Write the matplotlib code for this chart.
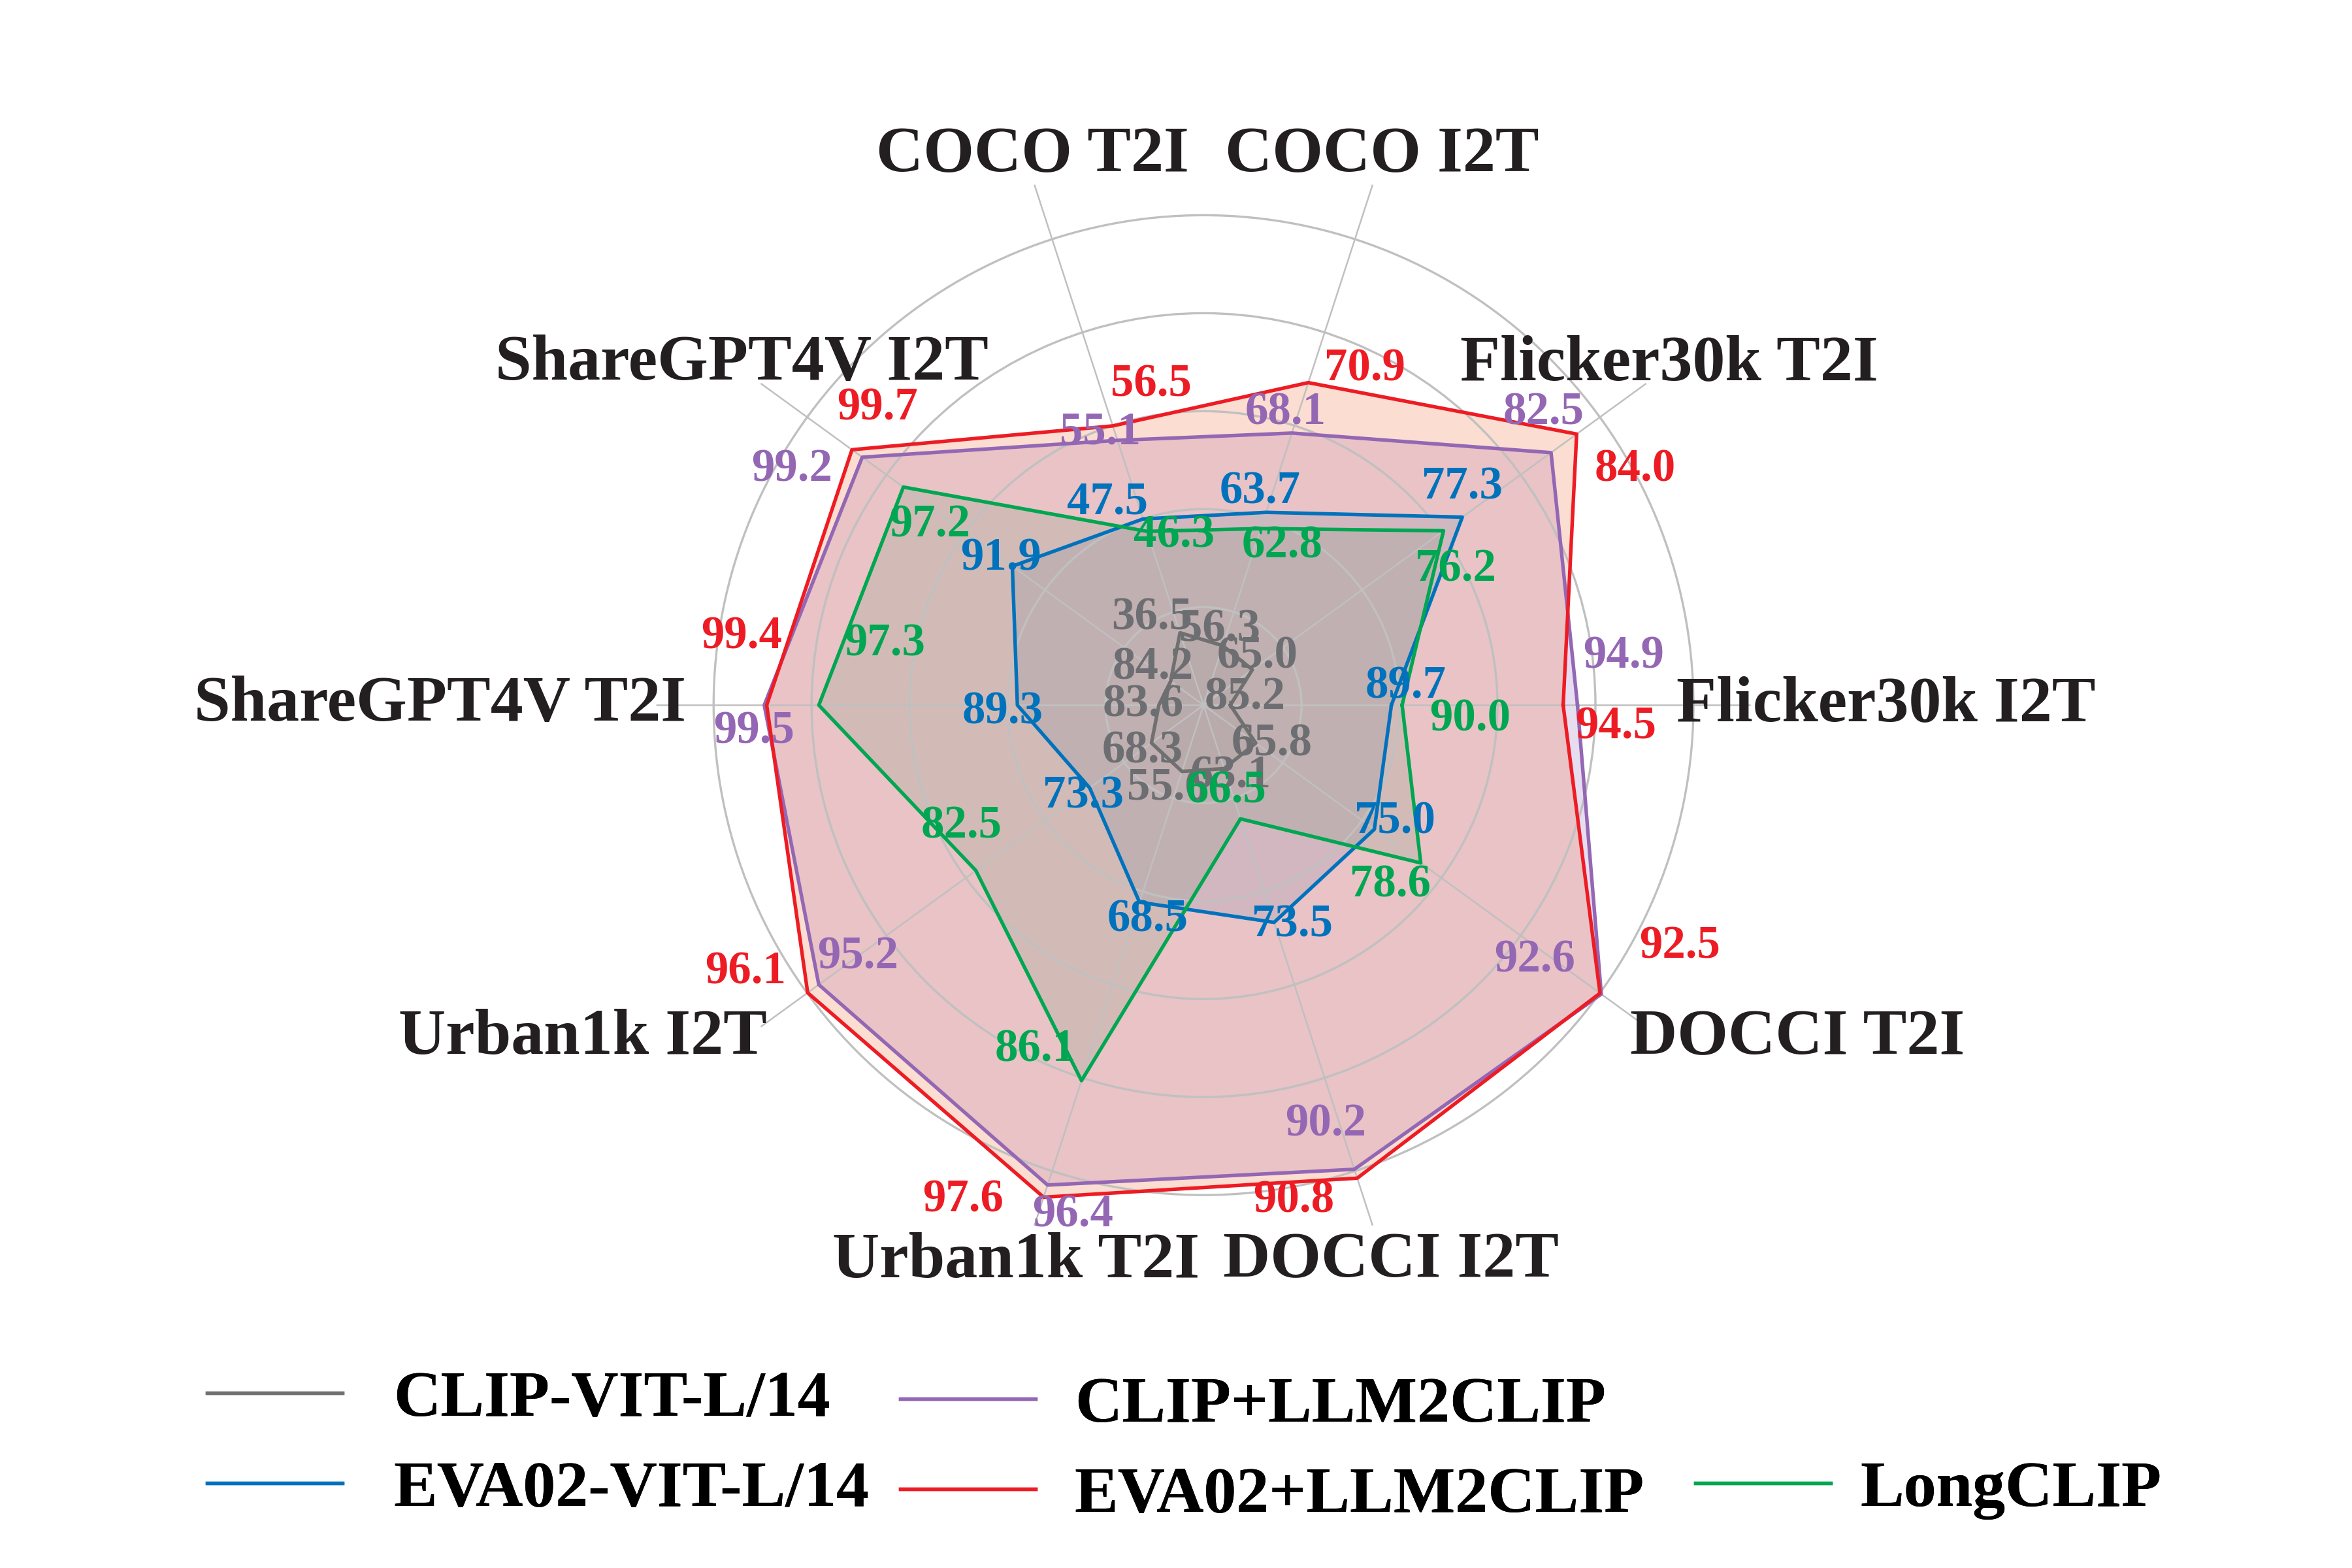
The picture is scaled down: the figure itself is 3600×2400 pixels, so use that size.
import numpy as np
import matplotlib.pyplot as plt
from matplotlib.lines import Line2D

plt.rcParams['font.family'] = ['Liberation Serif', 'DejaVu Serif']
plt.rcParams['font.weight'] = 'bold'

# axes, counter-clockwise from the right
categories = ['Flicker30k I2T', 'Flicker30k T2I', 'COCO I2T', 'COCO T2I', 'ShareGPT4V I2T',
              'ShareGPT4V T2I', 'Urban1k I2T', 'Urban1k T2I', 'DOCCI I2T', 'DOCCI T2I']

clip_l14 = [85.2, 65.0, 56.3, 36.5, 84.2, 83.6, 68.3, 55.6, 63.1, 65.8]
eva02_l14 = [89.7, 77.3, 63.7, 47.5, 91.9, 89.3, 73.3, 68.5, 73.5, 75.0]
clip_llm2clip = [94.9, 82.5, 68.1, 55.1, 99.2, 99.5, 95.2, 96.4, 90.2, 92.6]
eva02_llm2clip = [94.5, 84.0, 70.9, 56.5, 99.7, 99.4, 96.1, 97.6, 90.8, 92.5]
longclip = [90.0, 76.2, 62.8, 46.3, 97.2, 97.3, 82.5, 86.1, 66.5, 78.6]

# each axis has its own scale: value at the centre, value at the outer ring
axis_min = [84.45, 62.14, 53.0, 29.5, 82.6, 81.8, 64.09, 49.06, 58.81, 61.75]
axis_max = [98.14, 85.36, 78.86, 74.55, 101.88, 101.54, 96.14, 95.02, 90.32, 92.49]

names = ['CLIP-VIT-L/14', 'EVA02-VIT-L/14', 'CLIP+LLM2CLIP', 'EVA02+LLM2CLIP', 'LongCLIP']
series = [clip_l14, eva02_l14, clip_llm2clip, eva02_llm2clip, longclip]
colors = ['#707070', '#0072bc', '#9467b4', '#ed1c24', '#00a651']
text_colors = ['#6d6e71', '#0072bc', '#9467b4', '#ed1c24', '#00a651']
fill_colors = ['#707070', '#0072bc', '#9467bd', '#f0784a', '#00a651']
fill_alpha = [0.10, 0.15, 0.22, 0.25, 0.15]
fill_order = [0, 1, 4, 2, 3]

# where each value label sits relative to its point (points)
label_offsets = [
    [(5.3, 2.6), (1.9, 4.8), (-1.2, 5.9), (-10.2, 5.5), (-6.4, 5.0), (-5.8, 0), (-3.4, -3.1), (-5.4, -6.3), (2.4, -2.9), (6.0, -0.3)],
    [(5.2, 6.8), (-0.1, 11.0), (-2.2, 7.4), (-13.1, 6.1), (-4.3, 2.9), (-5.4, -2.5), (-2.4, -3.2), (3.0, -6.4), (6.8, -1.0), (7.6, 2.6)],
    [(17.0, 17.9), (-2.7, 14.6), (-2.3, 7.5), (-6.3, 3.0), (-25.8, -4.6), (-3.7, -9.7), (14.4, 10.2), (9.2, -11.0), (-10.6, 16.5), (-24.5, 12.5)],
    [(19.3, -8.0), (21.4, -13.1), (20.8, 5.0), (14.1, 15.0), (9.4, 15.3), (-9.3, 25.0), (-22.8, 7.6), (-29.6, -1.0), (-23.4, -8.3), (29.4, 17.2)],
    [(25.0, -5.3), (4.4, -14.3), (7.9, -6.4), (10.0, -1.6), (9.8, -14.1), (24.1, 22.3), (-5.2, 16.1), (-17.0, 11.2), (-5.2, 10.1), (-11.1, -8.1)],
]

n = len(categories)
theta = np.arange(n) * 2 * np.pi / n
lo = np.array(axis_min)
hi = np.array(axis_max)
radii = [(np.array(v) - lo) / (hi - lo) for v in series]
t_closed = np.append(theta, theta[0])

fig = plt.figure(figsize=(12, 8), dpi=300)
ax = fig.add_axes([0.2789, 0.2013, 0.4656, 0.698], polar=True)
rmax = 1.117
ax.set_ylim(0, rmax)
ax.set_rgrids([0.2, 0.4, 0.6, 0.8, 1.0], labels=[])
ax.set_thetagrids(np.degrees(theta), labels=[])
ax.spines['polar'].set_visible(False)
ax.grid(True, color='#c0c0c0', lw=0.8)
ax.xaxis.grid(True, color='#c0c0c0', lw=0.6)
ax.set_facecolor('none')

for i in fill_order:
    ax.fill(t_closed, np.append(radii[i], radii[i][0]), color=fill_colors[i], alpha=fill_alpha[i], lw=0)

for r, vals, c, tc, offs in zip(radii, series, colors, text_colors, label_offsets):
    ax.plot(t_closed, np.append(r, r[0]), color=c, lw=1.3)
    for t, rr, v, (dx, dy) in zip(theta, r, vals, offs):
        ax.annotate(f'{v:.1f}', xy=(t, rr), xytext=(dx, dy), textcoords='offset points',
                    ha='center', va='center', fontsize=17, color=tc, fontweight='bold', zorder=10)

# category labels around the web: (radius, ha, va, nudge in points)
name_place = {
    0: (0.965, 'left', 'center', (0, 0)),
    36: (1.13, 'center', 'baseline', (6.6, 0)),
    72: (1.13, 'center', 'baseline', (2.8, 2.8)),
    108: (1.13, 'center', 'baseline', (0, 2.8)),
    144: (1.13, 'center', 'baseline', (-5, 0)),
    180: (1.047, 'right', 'center', (-1.7, 0)),
    216: (rmax, 'right', 'top', (2.2, 6.6)),
    252: (rmax + 0.03, 'center', 'top', (-5, 2.8)),
    288: (rmax + 0.03, 'center', 'top', (5, 2.8)),
    324: (rmax, 'left', 'top', (-6, 6.6)),
}
for t, name in zip(theta, categories):
    rr, ha, va, nudge = name_place[int(round(np.degrees(t)))]
    ax.annotate(name, xy=(t, rr), xytext=nudge, textcoords='offset points',
                ha=ha, va=va, fontsize=24, color='#231f20', annotation_clip=False)

# legend laid out as three columns, LongCLIP on the second row
handles = [Line2D([], [], color=c, lw=1.3) for c in colors]
leg_cols = [([0, 1], (0.088, 0.0784), 0.78),
            ([2, 3], (0.3827, 0.0747), 0.6),
            ([4], (0.7207, 0.0500), 0.46)]
for idx, anchor, pad in leg_cols:
    leg = fig.legend([handles[i] for i in idx], [names[i] for i in idx], loc='center left',
                     bbox_to_anchor=anchor, frameon=False, fontsize=24, handlelength=2.07,
                     handletextpad=pad, labelspacing=0.47, borderpad=0, borderaxespad=0)
    fig.add_artist(leg)

fig.savefig('out.png', dpi=300, facecolor='white')
